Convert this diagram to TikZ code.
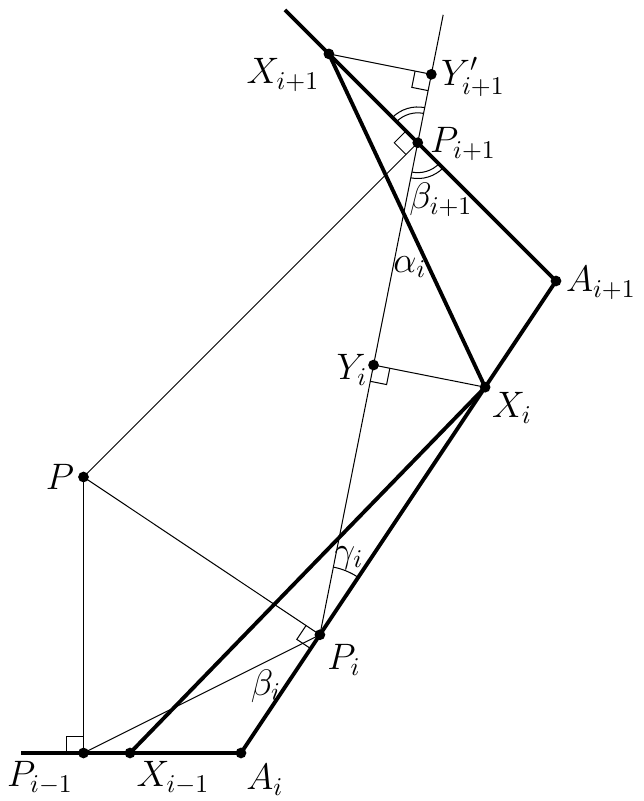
\documentclass[tikz,border=0pt]{standalone}
\usepackage{tikz}
\usetikzlibrary{calc,angles}
\def\rightmark(#1)(#2)(#3){\draw[thinline] ($(#2)!6.5pt!(#1)$) -- ($(#2)!6.5pt!(#1) + (#2)!6.5pt!(#3) - (#2)$) -- ($(#2)!6.5pt!(#3)$);}

\begin{document}
\begin{tikzpicture}[x=0.01375cm, y=0.01375cm,
		thinline/.style={line width=0.4pt},
		thickline/.style={line width=1.5pt},
		dot/.style={fill=black},
		every node/.style={font=\Large}]
			%%%%% START %%%%%
			\useasboundingbox (0, 0) rectangle (643, 801);
			
			\coordinate (L) at (21, 48);
			\coordinate (Pm) at (83.5, 48);
			\coordinate (Xm) at (130, 48);
			\coordinate (Ai) at (241, 48);
			\coordinate (P) at (83.5, 324);
			\coordinate (An) at (556, 520);
			\coordinate (T) at (285, 791);
			\coordinate (Pi) at ($(Ai)!(P)!(An)$);
			\coordinate (Pn) at ($(An)!(P)!(T)$);
			\coordinate (Xi) at ($(Ai)!0.775!(An)$);
			\coordinate (Xn) at ($(An)!0.838!(T)$);
			\coordinate (S) at ($(Pi)!1.26!(Pn)$);
			\coordinate (Yi) at ($(Pi)!(Xi)!(Pn)$);
			\coordinate (Yn) at ($(Pi)!(Xn)!(Pn)$);
			
			\draw[thinline] (Pi) -- (S);
			\draw[thinline] (P) -- (Pm);
			\draw[thinline] (P) -- (Pi);
			\draw[thinline] (P) -- (Pn);
			\draw[thinline] (Pm) -- (Pi);
			\draw[thinline] (Xi) -- (Yi);
			\draw[thinline] (Xn) -- (Yn);
			
			\rightmark(L)(Pm)(P)
			\rightmark(P)(Pi)(Ai)
			\rightmark(P)(Pn)(Xn)
			\rightmark(Xi)(Yi)(Pi)
			\rightmark(Xn)(Yn)(Pi)
			
			\pic[draw, thinline, angle radius=11.7pt] {angle=Yn--Pn--Xn};
			\pic[draw, thinline, angle radius=14pt] {angle=Yn--Pn--Xn};
			\pic[draw, thinline, angle radius=11.7pt] {angle=Pi--Pn--An};
			\pic[draw, thinline, angle radius=14pt] {angle=Pi--Pn--An};
			\pic[draw, thinline, angle radius=27pt] {angle=An--Pi--Pn};
			
			\draw[thickline] (L) -- (Ai) -- (An) -- (T);
			\draw[thickline] (Xm) -- (Xi) -- (Xn);
			
			\foreach \p in {Pm, Xm, Ai, P, Pi, Xi, Yi, An, Pn, Xn, Yn}
				\fill[dot] (\p) circle (2.1pt);
			
			\node (lXn) at (283, 726) {$X_{i+1}$};
			\node (lYn) at (473, 724) {$Y'_{i+1}$};
			\node (lPn) at (463, 657) {$P_{i+1}$};
			\node (lbn) at (441, 601) {$\beta_{i+1}$};
			\node (lai) at (410, 534) {$\alpha_i$};
			\node (lAn) at (601, 518) {$A_{i+1}$};
			\node (lYi) at (352, 431) {$Y_i$};
			\node (lXi) at (512, 393) {$X_i$};
			\node (lP) at (60, 324) {$P$};
			\node (lgi) at (349, 243) {$\gamma_i$};
			\node (lPi) at (344, 141) {$P_i$};
			\node (lbi) at (266, 115) {$\beta_i$};
			\node (lPm) at (40, 23) {$P_{i-1}$};
			\node (lXm) at (173, 23) {$X_{i-1}$};
			\node (lAi) at (265, 21) {$A_i$};
			
			%%%%% END %%%%%
\end{tikzpicture}
\end{document}
